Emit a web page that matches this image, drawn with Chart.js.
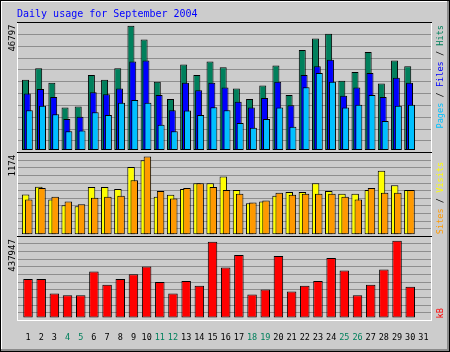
<!DOCTYPE html>
<html>
<head>
<meta charset="utf-8">
<script src="https://cdn.jsdelivr.net/npm/chart.js@4/dist/chart.umd.min.js"></script>
<style>
    html, body { margin: 0; padding: 0; background: #cccccc; }
    #wrap { width: 450px; height: 352px; }
</style>
</head>
<body>
<div id="wrap"><canvas id="usage" width="450" height="352"></canvas></div>
<script>
// Daily usage for September 2004
const dayLabels = ["1", "2", "3", "4", "5", "6", "7", "8", "9", "10", "11", "12", "13", "14", "15", "16",
    "17", "18", "19", "20", "21", "22", "23", "24", "25", "26", "27", "28", "29", "30", "31"];
const weekendDays = [4, 5, 11, 12, 18, 19, 25, 26];

const hits = [26450, 30790, 25370, 15970, 16340, 28260, 26450, 30790, 46797, 41630, 25730, 19230, 32240, 28260, 33320,
    31150, 23200, 19230, 24290, 31880, 20670, 37660, 42000, 43800, 26090, 29350, 36930, 25010, 33680, 31510];
const files = [21250, 22950, 19950, 11640, 12470, 21760, 21030, 23200, 33320, 33680, 20670, 15000, 25370, 22480, 25370,
    23560, 18140, 15970, 19590, 25730, 16800, 28260, 31510, 34040, 20420, 23560, 28980, 19950, 27180, 25370];
const pages = [15000, 16700, 13440, 7050, 7300, 14170, 13190, 17780, 18870, 17780, 9470, 7050, 14890, 13190, 16080,
    15000, 10190, 8380, 11640, 15970, 8750, 23670, 28980, 25730, 15970, 17060, 20670, 10910, 16700, 17060];
const visits = [600, 716, 523, 437, 422, 711, 711, 682, 1015, 1116, 567, 596, 682, 769, 769,
    870, 668, 466, 495, 581, 639, 639, 769, 654, 610, 610, 668, 957, 740, 668];
const sites = [523, 697, 567, 495, 451, 552, 567, 581, 813, 1174, 654, 538, 697, 769, 711,
    668, 610, 480, 509, 625, 596, 610, 610, 610, 567, 523, 697, 625, 625, 668];
const kbytes = [219500, 219500, 137600, 126700, 126700, 263200, 186800, 219500, 246800, 290500, 203100, 137600, 208600, 181300, 432500,
    285100, 356100, 132200, 159500, 350600, 148500, 181300, 208600, 339700, 268700, 126700, 186800, 274100, 437947, 175800];

const MONO = "'DejaVu Sans Mono', monospace";
const GREEN = "#00805c", BLUE = "#0000ff", CYAN = "#00c0ff", YELLOW = "#ffff00", ORANGE = "#ff9900", RED = "#ff0000";
const GRID = "#8e8e8e";

// x range in days, bars of one day sit side by side a little apart
const xMin = 0.165, xMax = 31.576;

function shiftedX(shift) {
    return {type: "linear", axis: "x", position: "bottom", display: false, offset: false,
        min: xMin - shift, max: xMax - shift};
}

// one panel of the stack, 10 guide lines splitting it in 11 parts
function panelY(maxVal, below, above, weight) {
    const min = -maxVal * below;
    const max = maxVal * above;
    return {
        type: "linear", position: "left", stack: "panels", stackWeight: weight,
        min: min, max: max,
        afterBuildTicks: function (axis) {
            const t = [];
            for (let k = 1; k < 11; k++) t.push({value: min + (max - min) * k / 11});
            axis.ticks = t;
        },
        ticks: {display: false},
        grid: {display: false, drawTicks: false},
        border: {display: false},
    };
}

function series(values, xAxisID, yAxisID, color, width, order) {
    return {
        type: "bar",
        data: values.map((v, i) => ({x: i + 1, y: v})),
        xAxisID: xAxisID,
        yAxisID: yAxisID,
        backgroundColor: color,
        borderColor: "#000",
        borderWidth: 1,
        borderSkipped: false,
        inflateAmount: 0,
        grouped: false,
        categoryPercentage: 1,
        barPercentage: 1,
        maxBarThickness: width,
        order: order,
    };
}

// text written upwards, several coloured parts
function drawUp(ctx, parts, x, y, fromTop) {
    let total = 0;
    parts.forEach(p => total += ctx.measureText(p[0]).width);
    const start = fromTop ? y + total : y;
    ctx.save();
    ctx.translate(x, start);
    ctx.rotate(-Math.PI / 2);
    ctx.textAlign = "left";
    ctx.textBaseline = "middle";
    let off = 0;
    parts.forEach(p => {
        ctx.fillStyle = p[1];
        ctx.fillText(p[0], off, 0);
        off += ctx.measureText(p[0]).width;
    });
    ctx.restore();
}

const frame = {
    id: "frame",
    beforeDraw(chart) {
        const {ctx, width, height} = chart;
        ctx.save();
        ctx.fillStyle = "#cccccc";
        ctx.fillRect(0, 0, width, height);
        ctx.fillStyle = "#ffffff";
        ctx.fillRect(0, 0, width, 2);
        ctx.fillRect(0, 0, 2, height);
        ctx.fillStyle = "#8c8c8c";
        ctx.fillRect(width - 3, 0, 3, height);
        ctx.fillRect(0, height - 3, width, 3);
        ctx.strokeStyle = "#000";
        ctx.lineWidth = 1;
        ctx.strokeRect(0.5, 0.5, width - 1, height - 1);
        ctx.restore();
    },
    beforeDatasetsDraw(chart) {
        // guide lines at each panel's ticks
        const {ctx, chartArea: a, scales} = chart;
        ctx.save();
        ctx.strokeStyle = GRID;
        ctx.lineWidth = 1;
        ["yTop", "yMid", "yBot"].forEach(id => {
            scales[id].ticks.forEach(t => {
                const y = Math.round(scales[id].getPixelForValue(t.value)) + 0.5;
                ctx.beginPath();
                ctx.moveTo(a.left, y);
                ctx.lineTo(a.right, y);
                ctx.stroke();
            });
        });
        ctx.restore();
    },
    afterDatasetsDraw(chart) {
        const {ctx, chartArea: a, scales} = chart;
        ctx.save();
        ctx.lineWidth = 1;
        const line = (x1, y1, x2, y2, c) => {
            ctx.strokeStyle = c;
            ctx.beginPath();
            ctx.moveTo(x1, y1);
            ctx.lineTo(x2, y2);
            ctx.stroke();
        };
        line(a.left + 0.5, a.top, a.left + 0.5, a.bottom + 1, "#fff");
        line(a.right + 0.5, a.top, a.right + 0.5, a.bottom + 1, "#fff");
        line(a.left, a.bottom + 0.5, a.right + 1, a.bottom + 0.5, "#fff");
        ["yTop", "yMid", "yBot"].forEach(id => {
            const y = Math.round(scales[id].top) + 0.5;
            line(a.left, y, a.right + 1, y, "#000");
        });
        ctx.restore();
    },
};

const sideLabels = {
    id: "sideLabels",
    afterDraw(chart) {
        const {ctx, chartArea: a, scales} = chart;
        ctx.save();
        ctx.font = "9px " + MONO;
        drawUp(ctx, [[String(Math.max(...hits)), "#000"]], a.left - 4, scales.yTop.top + 2.5, true);
        drawUp(ctx, [[String(Math.max(...sites)), "#000"]], a.left - 4, scales.yMid.top + 2.5, true);
        drawUp(ctx, [[String(Math.max(...kbytes)), "#000"]], a.left - 4, scales.yBot.top + 3.5, true);

        ctx.font = "8.6px " + MONO;
        const rx = a.right + 10;
        drawUp(ctx, [["Pages", CYAN], [" / ", "#000"], ["Files", BLUE], [" / ", "#000"], ["Hits", GREEN]],
            rx, scales.yTop.top + 3, true);
        drawUp(ctx, [["Sites", ORANGE], [" / ", "#000"], ["Visits", YELLOW]], rx, scales.yMid.bottom - 1.5, false);
        drawUp(ctx, [["kB", RED]], rx, scales.yBot.bottom - 1.5, false);
        ctx.restore();
    },
};

window.addEventListener("DOMContentLoaded", function () {
    const ctx = document.getElementById("usage").getContext("2d");
    new Chart(ctx, {
        type: "bar",
        data: {
            datasets: [
                series(hits, "xHits", "yTop", GREEN, 7, 3),
                series(files, "xFiles", "yTop", BLUE, 7, 2),
                series(pages, "xPages", "yTop", CYAN, 7, 1),
                series(visits, "xVisits", "yMid", YELLOW, 7.5, 2),
                series(sites, "xSites", "yMid", ORANGE, 7.5, 1),
                series(kbytes, "x", "yBot", RED, 9.5, 1),
            ],
        },
        options: {
            responsive: false,
            animation: false,
            devicePixelRatio: 1,
            layout: {padding: {top: 4, left: 17, right: 19, bottom: 3.8}},
            scales: {
                x: {
                    type: "linear", position: "bottom", offset: false,
                    min: xMin, max: xMax,
                    afterBuildTicks: function (axis) {
                        axis.ticks = dayLabels.map((_, i) => ({value: i + 1}));
                    },
                    ticks: {
                        autoSkip: false, maxRotation: 0, padding: 5,
                        font: {family: MONO, size: 8.5, lineHeight: 1.2},
                        color: c => weekendDays.includes(c.tick.value) ? GREEN : "#000",
                        callback: v => dayLabels[v - 1],
                    },
                    grid: {display: false},
                    border: {display: false},
                },
                xHits: shiftedX(-0.19),
                xFiles: shiftedX(-0.053),
                xPages: shiftedX(0.099),
                xVisits: shiftedX(-0.18),
                xSites: shiftedX(0.06),
                // the last one stacked goes on top
                yBot: panelY(Math.max(...kbytes), 0.0312, 1.066, 88),
                yMid: panelY(Math.max(...sites), 0.0185, 1.053, 87),
                yTop: panelY(Math.max(...hits), 0.0193, 1.0309, 136),
            },
            plugins: {
                legend: {display: false},
                tooltip: {enabled: false},
                title: {
                    display: true,
                    text: "Daily usage for September 2004",
                    align: "start",
                    color: BLUE,
                    font: {family: MONO, size: 10, weight: "normal", lineHeight: 1.2},
                    padding: {top: 4, bottom: 2},
                },
            },
        },
        plugins: [frame, sideLabels],
    });
});
</script>
</body>
</html>
